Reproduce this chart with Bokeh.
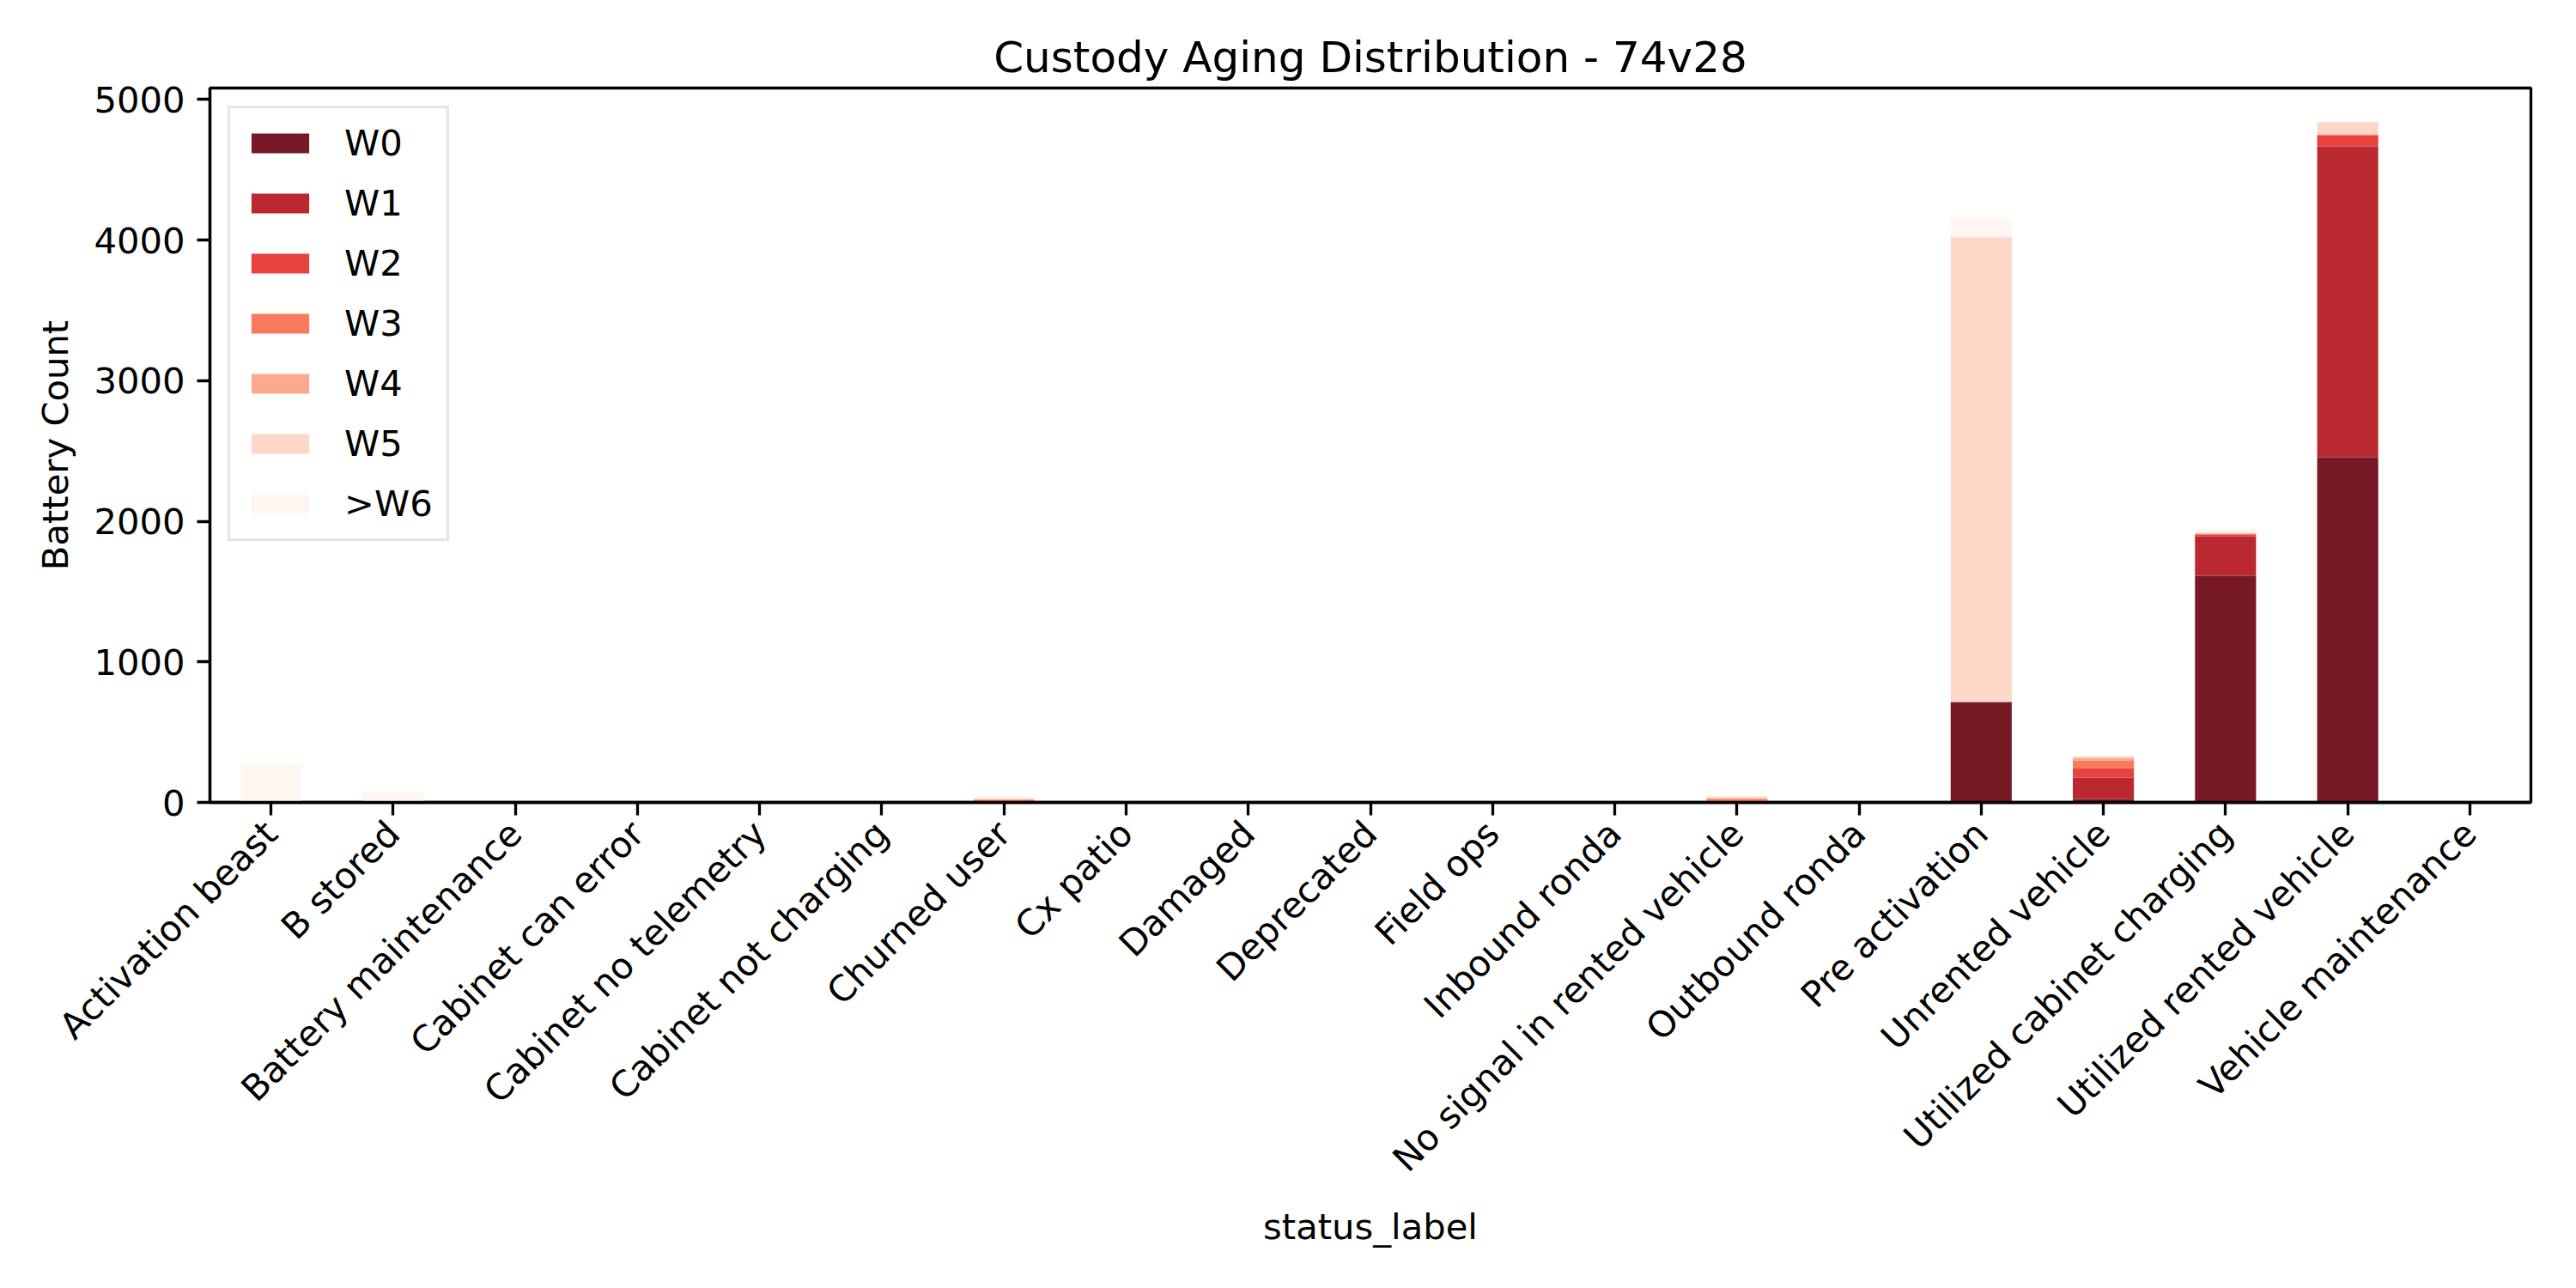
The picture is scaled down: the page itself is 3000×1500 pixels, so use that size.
import math
from bokeh.plotting import figure
from bokeh.models import FactorRange, Range1d, FixedTicker, ColumnDataSource
from bokeh.embed import file_html
from bokeh.resources import INLINE

categories = ["Activation beast", "B stored", "Battery maintenance", "Cabinet can error",
              "Cabinet no telemetry", "Cabinet not charging", "Churned user", "Cx patio",
              "Damaged", "Deprecated", "Field ops", "Inbound ronda",
              "No signal in rented vehicle", "Outbound ronda", "Pre activation",
              "Unrented vehicle", "Utilized cabinet charging", "Utilized rented vehicle",
              "Vehicle maintenance"]

W0 = [0, 5, 0, 0, 0, 0, 3, 3, 0, 0, 0, 2, 0, 0, 715, 24, 1612, 2455, 0]
W1 = [0, 0, 0, 0, 0, 0, 6, 3, 0, 0, 0, 3, 0, 0, 0, 153, 281, 2211, 0]
W2 = [0, 0, 0, 0, 0, 0, 5, 0, 0, 0, 0, 0, 5, 0, 0, 67, 12, 79, 0]
W3 = [0, 0, 0, 0, 0, 0, 4, 0, 0, 0, 0, 0, 17, 0, 0, 55, 6, 6, 0]
W4 = [0, 0, 0, 0, 0, 0, 4, 0, 0, 0, 0, 0, 9, 0, 0, 18, 4, 0, 0]
W5 = [0, 0, 0, 0, 0, 0, 6, 0, 0, 0, 0, 0, 9, 0, 3305, 10, 3, 88, 0]
W6 = [268, 68, 0, 0, 0, 0, 16, 0, 0, 0, 0, 0, 12, 0, 139, 3, 26, 0, 0]

series_labels = ["W0", "W1", "W2", "W3", "W4", "W5", ">W6"]
y_ticks = [0, 1000, 2000, 3000, 4000, 5000]

colors = ["#67000d", "#b21218", "#e32f27", "#fb6a4a", "#fca082", "#fdd4c2", "#fff5f0"]

keys = ["W0", "W1", "W2", "W3", "W4", "W5", "W6"]
series = [W0, W1, W2, W3, W4, W5, W6]
data = {"status_label": categories}
for k, s in zip(keys, series):
    data[k] = s
source = ColumnDataSource(data)

totals = [sum(v) for v in zip(*series)]
ymax = max(totals) * 1.05

FONT = "DejaVu Sans"
LW = 3.3

p = figure(x_range=FactorRange(factors=categories, range_padding=0),
           y_range=Range1d(0, ymax),
           frame_width=2703, frame_height=832,
           min_border_left=244, min_border_right=45,
           min_border_top=102, min_border_bottom=550,
           output_backend="svg", toolbar_location=None,
           title="Custody Aging Distribution - 74v28")

p.vbar_stack(keys, x="status_label", width=0.5, color=colors, fill_alpha=0.9,
             line_color=None, source=source, legend_label=series_labels)

p.title.align = "center"
p.title.text_font = FONT
p.title.text_font_size = "50px"
p.title.text_font_style = "normal"
p.title.text_color = "black"
p.title.standoff = 14

p.xgrid.visible = False
p.ygrid.visible = False
p.outline_line_color = "black"
p.outline_line_width = LW
p.outline_line_alpha = 1.0

for ax in (p.xaxis[0], p.yaxis[0]):
    ax.axis_line_width = LW
    ax.axis_line_color = "black"
    ax.major_tick_line_width = LW
    ax.major_tick_line_color = "black"
    ax.major_tick_out = 15
    ax.major_tick_in = 0
    ax.minor_tick_line_color = None
    ax.major_label_standoff = 14
    ax.major_label_text_font = FONT
    ax.major_label_text_font_size = "41.7px"
    ax.major_label_text_color = "black"
    ax.axis_label_text_font = FONT
    ax.axis_label_text_font_size = "41.7px"
    ax.axis_label_text_font_style = "normal"
    ax.axis_label_text_color = "black"
    ax.axis_label_standoff = 17

p.xaxis.axis_label = "status_label"
p.yaxis.axis_label = "Battery Count"
p.xaxis.axis_label_standoff = 10
p.xaxis.major_label_orientation = math.pi / 4
p.yaxis.ticker = FixedTicker(ticks=y_ticks)

lg = p.legend[0]
lg.location = "top_left"
lg.margin = 21
lg.padding = 16
lg.glyph_width = 84
lg.glyph_height = 29
lg.label_height = 42
lg.spacing = 21
lg.label_standoff = 33
lg.label_text_font = FONT
lg.label_text_font_size = "41.7px"
lg.label_text_color = "black"
lg.border_line_color = "#cccccc"
lg.border_line_width = LW
lg.background_fill_color = "white"
lg.background_fill_alpha = 0.8

open("out.html", "w").write(file_html(p, INLINE))
